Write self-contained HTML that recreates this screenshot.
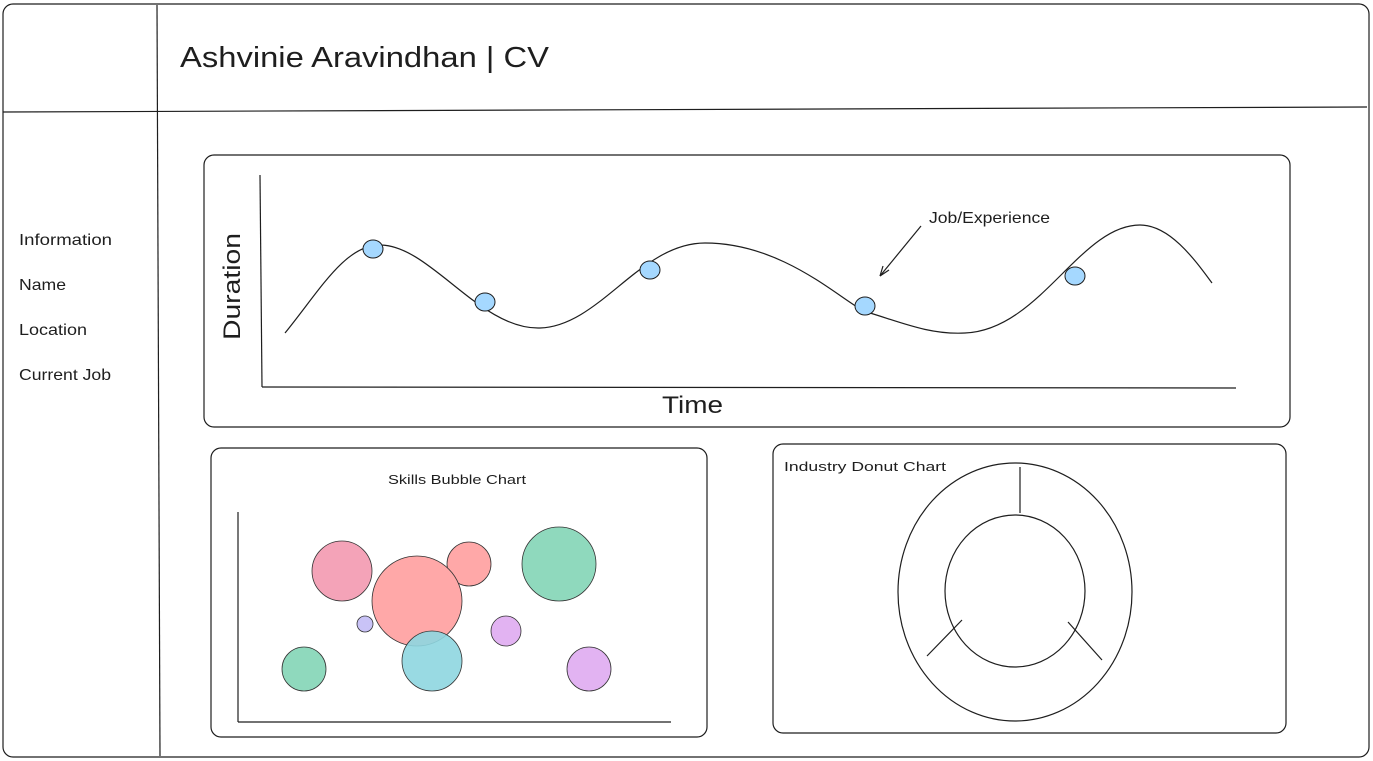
<!DOCTYPE html>
<html><head><style>
body{margin:0;background:#fff;}
svg{display:block;}
text{font-family:"Liberation Sans",sans-serif;fill:#1e1e1e;}
</style></head><body>
<svg width="1373" height="761" viewBox="0 0 1373 761" xmlns="http://www.w3.org/2000/svg">
<g fill="none" stroke="#1e1e1e" stroke-width="1.2">
<rect x="3" y="4" width="1366" height="753" rx="10"/>
<line x1="3" y1="112" x2="1367" y2="107"/>
<line x1="157" y1="5" x2="160" y2="756"/>
<rect x="204" y="155" width="1086" height="272" rx="10"/>
<rect x="211" y="448" width="496" height="289" rx="10"/>
<rect x="773" y="444" width="513" height="289" rx="10"/>
<line x1="260" y1="175" x2="262" y2="387"/>
<line x1="262" y1="387" x2="1236" y2="388"/>
<path d="M285,333 C320,290 345,245 380,245 C430,245 480,330 540,328 C600,326 640,243 705,243 C790,243 850,310 870,313 C900,322 930,335 965,333 C1040,330 1080,225 1140,225 C1170,225 1195,260 1212,283"/>
<line x1="921" y1="226" x2="880" y2="276"/>
<path d="M880,276 L883,266 M880,276 L889,270"/>
<line x1="238" y1="512" x2="238" y2="722"/>
<line x1="238" y1="722" x2="671" y2="722"/>
<ellipse cx="1015" cy="592" rx="117" ry="129"/>
<ellipse cx="1015" cy="591" rx="70" ry="76"/>
<line x1="1020" y1="467" x2="1020" y2="513"/>
<line x1="962" y1="620" x2="927" y2="656"/>
<line x1="1068" y1="622" x2="1102" y2="660"/>
</g>
<g stroke="#1e1e1e" stroke-width="1" fill="#a5d8ff">
<ellipse cx="373" cy="249" rx="10" ry="9"/>
<ellipse cx="485" cy="302" rx="10" ry="9"/>
<ellipse cx="650" cy="270" rx="10" ry="9"/>
<ellipse cx="865" cy="306" rx="10" ry="9"/>
<ellipse cx="1075" cy="276" rx="10" ry="9"/>
</g>
<g stroke="#333" stroke-width="0.8">
<circle cx="342" cy="571" r="30" fill="#f4a3b8"/>
<circle cx="559" cy="564" r="37" fill="#8fd9bd"/>
<circle cx="469" cy="564" r="22" fill="#ffa8a8"/>
<circle cx="417" cy="601" r="45" fill="#ffa8a8"/>
<circle cx="365" cy="624" r="8" fill="#c9c3f7"/>
<circle cx="432" cy="661" r="30" fill="#8ed6e0" fill-opacity="0.9"/>
<circle cx="506" cy="631" r="15" fill="#e2b3f2"/>
<circle cx="304" cy="669" r="22" fill="#8fd9bd"/>
<circle cx="589" cy="669" r="22" fill="#e2b3f2"/>
</g>
<text x="180" y="67" font-size="29" textLength="369" lengthAdjust="spacingAndGlyphs">Ashvinie Aravindhan | CV</text>
<text x="19" y="245" font-size="16" textLength="93" lengthAdjust="spacingAndGlyphs">Information</text>
<text x="19" y="290" font-size="16" textLength="47" lengthAdjust="spacingAndGlyphs">Name</text>
<text x="19" y="335" font-size="16" textLength="68" lengthAdjust="spacingAndGlyphs">Location</text>
<text x="19" y="380" font-size="16" textLength="92" lengthAdjust="spacingAndGlyphs">Current Job</text>
<text x="662" y="413" font-size="24" textLength="61" lengthAdjust="spacingAndGlyphs">Time</text>
<text transform="translate(240,340) rotate(-90)" font-size="24" textLength="107" lengthAdjust="spacingAndGlyphs">Duration</text>
<text x="929" y="223" font-size="16" textLength="121" lengthAdjust="spacingAndGlyphs">Job/Experience</text>
<text x="388" y="484" font-size="13" textLength="138" lengthAdjust="spacingAndGlyphs">Skills Bubble Chart</text>
<text x="784" y="471" font-size="13" textLength="162" lengthAdjust="spacingAndGlyphs">Industry Donut Chart</text>
</svg>
</body></html>
